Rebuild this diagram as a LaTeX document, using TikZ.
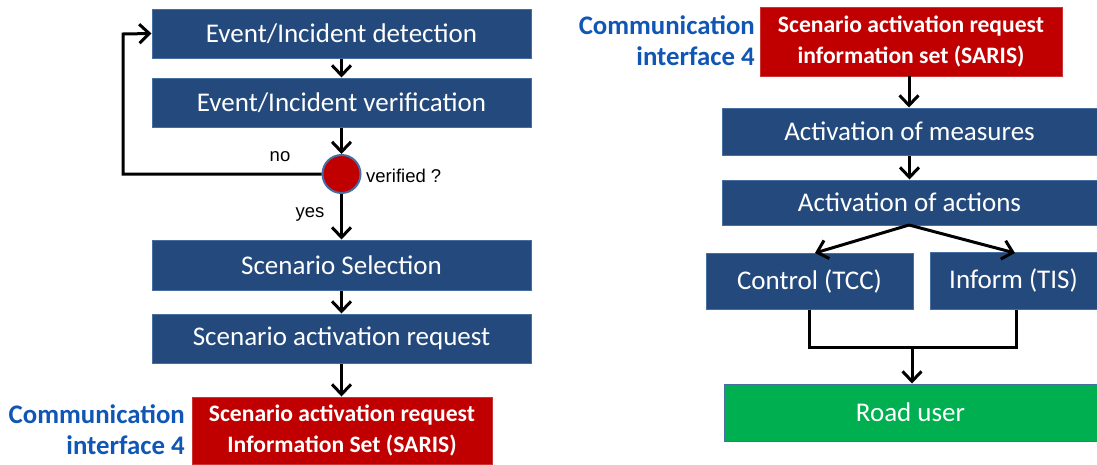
\documentclass[tikz,border=0pt]{standalone}
\usepackage{fontspec}
\setmainfont{Carlito}
\newfontfamily\labfont{Liberation Sans}
\usetikzlibrary{arrows.meta}
\definecolor{boxblue}{RGB}{36,74,125}
\definecolor{boxedge}{RGB}{70,110,160}
\definecolor{boxred}{RGB}{192,0,0}
\definecolor{boxgreen}{RGB}{0,176,80}
\definecolor{commblue}{RGB}{16,86,180}
\tikzset{
  bbox/.style={rectangle, fill=boxblue, draw=boxedge, line width=1pt, inner sep=0pt,
    text=white, font=\fontsize{27}{32}\selectfont},
  rbox/.style={rectangle, fill=boxred, draw=boxred!80!white, line width=1pt, inner sep=0pt,
    text=white, align=center, font=\bfseries\fontsize{23.6}{31}\selectfont},
  gbox/.style={rectangle, fill=boxgreen, draw=boxedge, line width=1pt, inner sep=0pt,
    text=white, font=\fontsize{27}{32}\selectfont},
  comm/.style={text=commblue, align=right, inner sep=0pt, font=\bfseries\fontsize{26.8}{31}\selectfont},
  lab/.style={inner sep=0pt, font=\labfont\fontsize{18.5}{20}\selectfont},
  conn/.style={line width=3pt, -{Straight Barb[length=10pt,width=19pt]}},
  plain/.style={line width=3pt},
}
\begin{document}
\begin{tikzpicture}[x=1pt,y=-1pt]
\useasboundingbox (0,0) rectangle (1097,464);
% left column
\node[bbox, minimum width=379pt, minimum height=49pt] (det) at (341.5,33.5) {Event/Incident detection};
\node[bbox, minimum width=379pt, minimum height=49pt] (ver) at (341.5,102.5) {Event/Incident verification};
\node[circle, fill=boxred, draw=boxedge, line width=2pt, minimum size=38pt, inner sep=0pt] (dec) at (341.5,174) {};
\node[lab, anchor=west] (vlab) at (366,176) {verified ?};
\node[lab] (nolab) at (280,157) {no};
\node[lab] (yeslab) at (310,214) {yes};
\node[bbox, minimum width=379pt, minimum height=50pt] (ss) at (341.5,265) {Scenario Selection};
\node[bbox, minimum width=379pt, minimum height=49pt] (sar) at (341.5,338.5) {Scenario activation request};
\node[rbox, minimum width=300pt, minimum height=67pt] (saris) at (342,430.5) {Scenario activation request\\Information Set (SARIS)};
\node[comm, anchor=east] (commL) at (185,430) {Communication\\interface 4};
\coordinate (loopA) at (123,174);
\coordinate (loopB) at (123,34);
\draw[conn] (det) -- (ver);
\draw[conn] (ver) -- (dec);
\draw[conn] (dec) -- (ss);
\draw[conn] (ss) -- (sar);
\draw[conn] (sar.south) -- (sar.south |- saris.north);
\draw[conn] (dec.west) -- (loopA) -- (loopB) -- (det.west);
% right column
\node[rbox, minimum width=302pt, minimum height=69pt] (sarisR) at (911,41.5) {Scenario activation request\\information set (SARIS)};
\node[comm, anchor=east] (commR) at (755,41) {Communication\\interface 4};
\node[bbox, minimum width=375pt, minimum height=47pt] (meas) at (909.5,131.5) {Activation of measures};
\node[bbox, minimum width=375pt, minimum height=45pt] (act) at (909.5,202.5) {Activation of actions};
\node[bbox, minimum width=207pt, minimum height=56pt] (ctrl) at (809.5,281) {Control (TCC)};
\node[bbox, minimum width=167pt, minimum height=57pt] (inf) at (1013.5,280.5) {Inform (TIS)};
\node[gbox, minimum width=373pt, minimum height=57pt] (road) at (910.5,412.5) {Road user};
\coordinate (actb) at (909,225);
\coordinate (ctrlt) at (815,253);
\coordinate (inft) at (1015,253);
\coordinate (j1) at (809,347);
\coordinate (j2) at (1016,347);
\coordinate (jm) at (912,347);
\draw[conn] (909,76) -- (meas.north -| 909,0);
\draw[conn] (meas) -- (act);
\draw[conn] (actb) -- (ctrlt);
\draw[conn] (actb) -- (inft);
\draw[plain, line join=miter] (ctrl.south -| j1) -- (j1) -- (j2) -- (inf.south -| j2);
\draw[conn] (jm) -- (road.north -| jm);
\end{tikzpicture}
\end{document}
